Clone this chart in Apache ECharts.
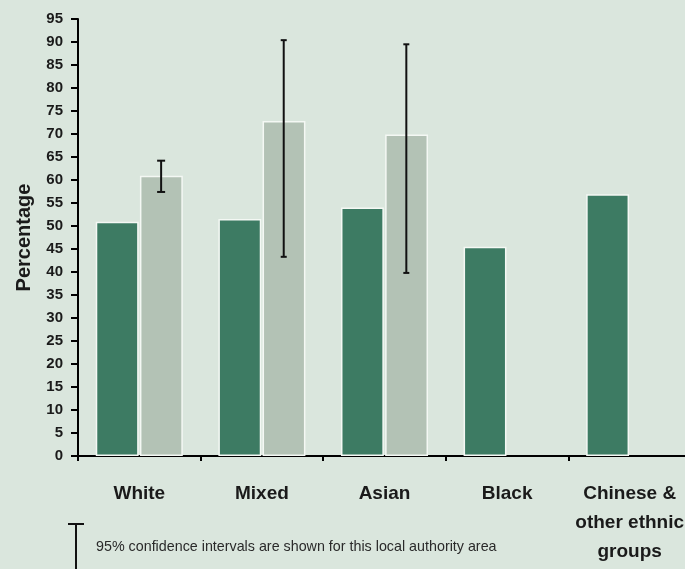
<!DOCTYPE html>
<html>
<head>
<meta charset="utf-8">
<script src="https://cdn.jsdelivr.net/npm/echarts@6/dist/echarts.min.js"></script>
<style>
  html, body { margin: 0; padding: 0; background: #dae6dd; }
  #chart { width: 685px; height: 569px; }
</style>
</head>
<body>
<div id="chart"></div>
<script>
// categories and values
var categories = ['White', 'Mixed', 'Asian', 'Black', 'Chinese &\nother ethnic\ngroups'];
var seriesA = [50.9, 51.5, 54.0, 45.5, 56.9];     // dark bars
var seriesB = [60.9, 72.8, 69.9, null, null];     // light bars
var ciLow = [57.4, 43.3, 39.8, null, null];
var ciHigh = [64.2, 90.4, 89.5, null, null];
var ciCap = [4, 3, 3, 0, 0];

var chart = echarts.init(document.getElementById('chart'));

// error bar points: [category index, low, high, half cap width]
var ciData = [];
for (var i = 0; i < categories.length; i++) {
  if (ciLow[i] != null) ciData.push([i, ciLow[i], ciHigh[i], ciCap[i]]);
}

var option = {
  backgroundColor: '#dae6dd',
  animation: false,
  grid: { left: 78, top: 19, bottom: 113, right: -6, outerBoundsMode: 'none', containLabel: false },
  xAxis: {
    type: 'category',
    data: categories,
    axisLine: { lineStyle: { color: '#000', width: 2 } },
    axisTick: { show: true, alignWithLabel: false, length: 5, lineStyle: { color: '#000', width: 2 } },
    axisLabel: {
      color: '#1a1a1a', fontFamily: 'Liberation Sans', fontWeight: 'bold',
      fontSize: 19, lineHeight: 29, margin: 23, interval: 0
    }
  },
  yAxis: {
    type: 'value',
    min: 0, max: 95, interval: 5,
    name: 'Percentage',
    nameLocation: 'middle',
    nameGap: 44,
    nameTextStyle: { color: '#1a1a1a', fontFamily: 'Liberation Sans', fontWeight: 'bold', fontSize: 20 },
    axisLine: { show: true, lineStyle: { color: '#000', width: 2 } },
    axisTick: { show: true, length: 7, lineStyle: { color: '#000', width: 2 } },
    axisLabel: { color: '#1a1a1a', fontFamily: 'Liberation Sans', fontWeight: 'bold', fontSize: 15, margin: 15 },
    splitLine: { show: false }
  },
  series: [
    {
      type: 'bar',
      data: seriesA,
      barGap: '3%',
      barCategoryGap: '29%',
      itemStyle: { color: '#3d7b63', borderColor: '#f4f8f4', borderWidth: 1.5 }
    },
    {
      type: 'bar',
      data: seriesB,
      itemStyle: { color: '#b3c2b5', borderColor: '#f4f8f4', borderWidth: 1.5 }
    },
    {
      type: 'custom',
      data: ciData,
      z: 10,
      renderItem: function (params, api) {
        var idx = api.value(0);
        var lo = api.coord([idx, api.value(1)]);
        var hi = api.coord([idx, api.value(2)]);
        var bw = api.size([1, 0])[0];
        // centre of the second bar inside the category
        var x = lo[0] + bw * 0.178;
        var c = api.value(3);
        var st = { stroke: '#111', lineWidth: 2 };
        return {
          type: 'group',
          children: [
            { type: 'line', shape: { x1: x, y1: hi[1], x2: x, y2: lo[1] }, style: st },
            { type: 'line', shape: { x1: x - c, y1: hi[1], x2: x + c, y2: hi[1] }, style: st },
            { type: 'line', shape: { x1: x - c, y1: lo[1], x2: x + c, y2: lo[1] }, style: st }
          ]
        };
      }
    }
  ],
  graphic: [
    { type: 'line', shape: { x1: 76, y1: 524, x2: 76, y2: 575 }, style: { stroke: '#111', lineWidth: 2 } },
    { type: 'line', shape: { x1: 68, y1: 524, x2: 84, y2: 524 }, style: { stroke: '#111', lineWidth: 2 } },
    {
      type: 'text', left: 96, top: 540,
      style: {
        text: '95% confidence intervals are shown for this local authority area',
        fill: '#2a2a2a', fontFamily: 'Liberation Sans', fontSize: 14.3
      }
    }
  ]
};

chart.setOption(option);
</script>
</body>
</html>
